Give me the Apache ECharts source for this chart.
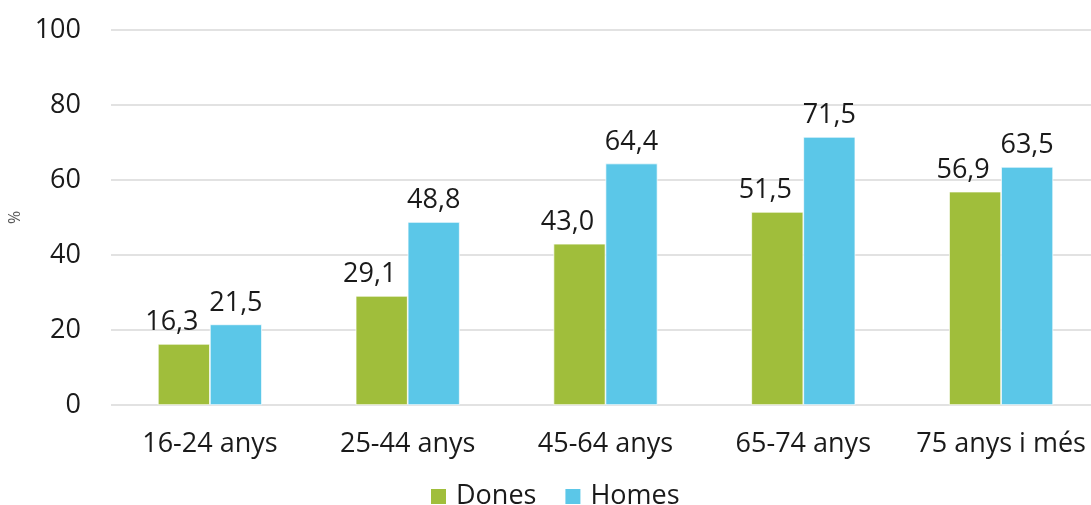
<!DOCTYPE html>
<html>
<head>
<meta charset="utf-8">
<script src="https://cdn.jsdelivr.net/npm/echarts@6/dist/echarts.min.js"></script>
<style>html,body{margin:0;padding:0;background:#fff}#c{width:1091px;height:505px}</style>
</head>
<body>
<div id="c"></div>
<script>
const categories = ['16-24 anys', '25-44 anys', '45-64 anys', '65-74 anys', '75 anys i més'];
const dones = [16.3, 29.1, 43.0, 51.5, 56.9];
const homes = [21.5, 48.8, 64.4, 71.5, 63.5];
const seriesNames = ['Dones', 'Homes'];

const fmt = p => p.value.toFixed(1).replace('.', ',');
const font = '"Open Sans", "Noto Sans", sans-serif';
const FS = 27;
const labelBase = { show: true, position: 'top', distance: 8, formatter: fmt, fontSize: FS, color: '#1a1a1a', fontFamily: font };

const chart = echarts.init(document.getElementById('c'));
chart.setOption({
  animation: false,
  textStyle: { fontFamily: font },
  grid: { left: 111, width: 989, top: 30, bottom: 100, containLabel: false, outerBoundsMode: 'none' },
  legend: {
    data: seriesNames, left: 424, top: 478,
    itemWidth: 17, itemHeight: 17, itemGap: 27, icon: 'rect',
    textStyle: { fontSize: FS, color: '#1a1a1a', fontFamily: font, padding: [0, 0, 0, 4] }
  },
  xAxis: {
    type: 'category', data: categories,
    axisLine: { show: false }, axisTick: { show: false },
    axisLabel: { interval: 0, fontSize: FS, color: '#1a1a1a', margin: 26, fontFamily: font }
  },
  yAxis: {
    type: 'value', min: 0, max: 100, interval: 20,
    name: '%', nameLocation: 'middle', nameGap: 81, nameRotate: 90,
    nameTextStyle: { fontSize: 16, color: '#595959', fontFamily: font },
    axisLabel: { fontSize: FS, color: '#1a1a1a', margin: 30, fontFamily: font },
    splitLine: { lineStyle: { color: '#d9d9d9', width: 1.5 } }
  },
  series: [
    { name: seriesNames[0], type: 'bar', data: dones, barGap: '0%', barCategoryGap: '47.4%',
      itemStyle: { color: '#a0be3b', borderColor: '#ffffff', borderWidth: 0.7 },
      label: Object.assign({}, labelBase, { offset: [-12, 0] }) },
    { name: seriesNames[1], type: 'bar', data: homes, barGap: '0%', barCategoryGap: '47.4%',
      itemStyle: { color: '#5bc7e8', borderColor: '#ffffff', borderWidth: 0.7 }, label: labelBase }
  ]
});
</script>
</body>
</html>
